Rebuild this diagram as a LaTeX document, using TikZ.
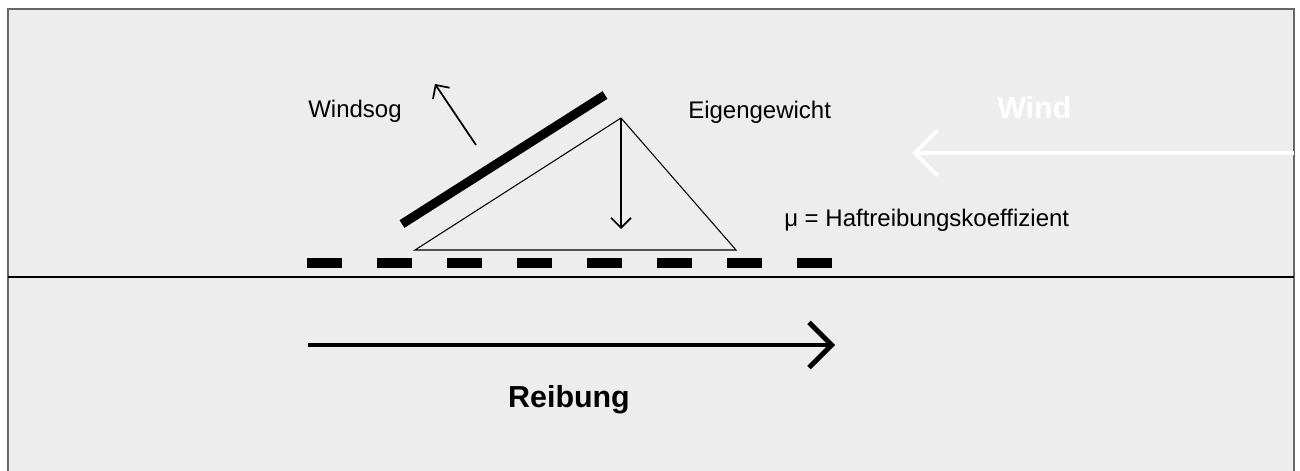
\documentclass[tikz,border=0pt]{standalone}
\usepackage{fontspec}
\setmainfont{Liberation Sans}
\usetikzlibrary{arrows.meta}
\definecolor{panelgrey}{HTML}{EDEDED}
\definecolor{framegrey}{HTML}{666666}

\begin{document}
\begin{tikzpicture}[x=0.75pt, y=-0.75pt,
    txt/.style={inner sep=0pt, anchor=base west, font=\fontsize{18}{21}\selectfont},
    bold/.style={inner sep=0pt, font=\fontsize{22.8}{26}\selectfont\bfseries},
    force/.style={line width=1.3pt, -{Straight Barb[length=7.5pt, width=15pt]}},
    motion/.style={line width=3.6pt, -{Straight Barb[length=17pt, width=34pt]}}]
  \useasboundingbox (0,0) rectangle (1300,471);
  % frame and ground
  \draw[framegrey, line width=1.4pt, fill=panelgrey] (8,9) rectangle (1294,490);
  \coordinate (g0) at (8,277);
  \coordinate (g1) at (1294,277);
  \draw[line width=1.3pt] (g0) -- (g1);
  \foreach \i in {0,...,7}
    \fill (307+70*\i,258) rectangle ++(35,10);
  % frame stand and module
  \coordinate (left) at (415,250);
  \coordinate (top) at (621,118);
  \coordinate (right) at (736,250);
  \draw[line width=0.8pt] (left) -- (top) -- (right) -- cycle;
  \coordinate (p0) at (402,224);
  \coordinate (p1) at (605,95);
  \draw[line width=6.8pt] (p0) -- (p1);
  % forces
  \coordinate (sog0) at (476,145);
  \coordinate (sog1) at (435,84);
  \coordinate (gw) at (621,229);
  \path[force] (sog0) edge (sog1)
    (top) edge (gw);
  \node[txt] (windsog) at (308,117) {Windsog};
  \node[txt] (eigen) at (688,118) {Eigengewicht};
  \node[txt] (mu) at (784,226) {μ = Haftreibungskoeffizient};
  % wind and friction
  \node[bold, white, anchor=base west] (wind) at (997,118) {Wind};
  \coordinate (w0) at (1294,153);
  \coordinate (w1) at (912,153);
  \draw[motion, white, line width=3pt] (w0) -- (w1);
  \coordinate (r0) at (308,345);
  \coordinate (r1) at (835,345);
  \draw[motion] (r0) -- (r1);
  \node[bold, anchor=base] (reibung) at (569,407) {Reibung};
\end{tikzpicture}
\end{document}
